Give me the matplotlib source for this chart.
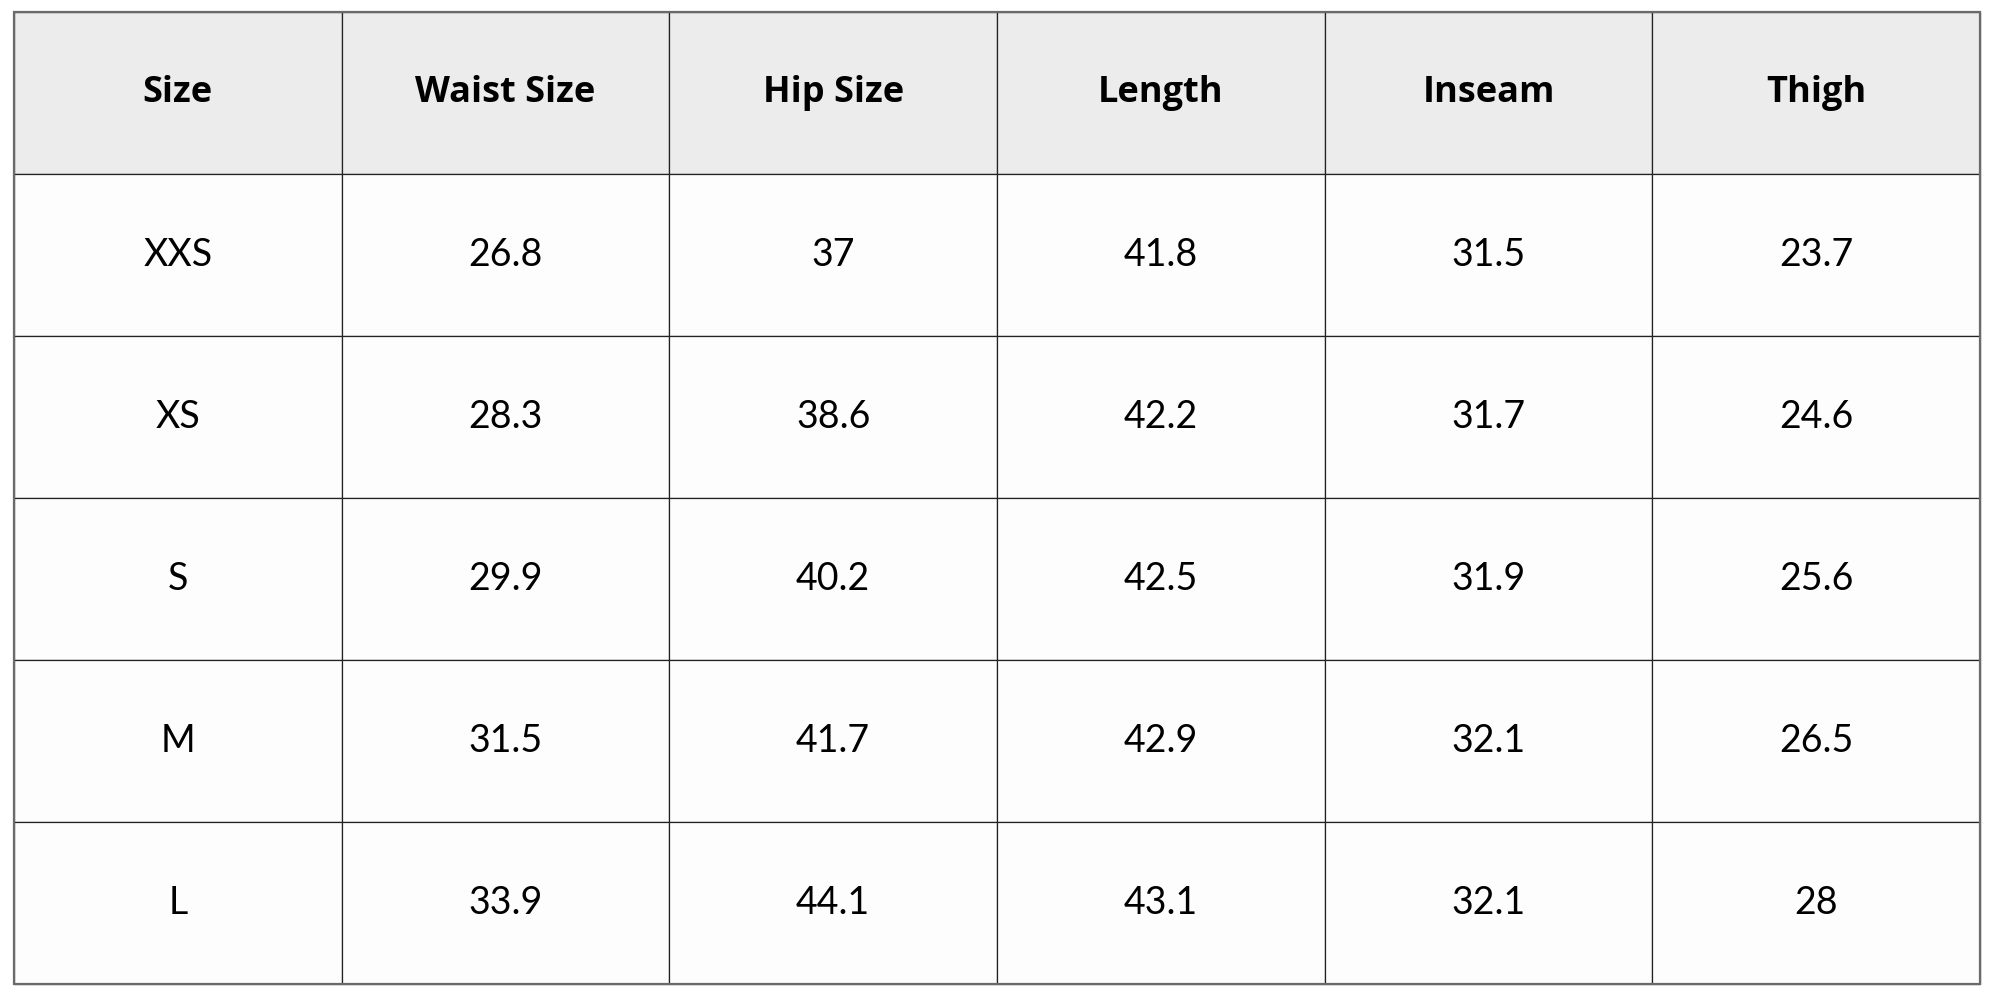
import matplotlib
matplotlib.use('Agg')
import matplotlib.pyplot as plt

# size chart values
columns = ['Size', 'Waist Size', 'Hip Size', 'Length', 'Inseam', 'Thigh']
sizes = ['XXS', 'XS', 'S', 'M', 'L']
waist = ['26.8', '28.3', '29.9', '31.5', '33.9']
hip = ['37', '38.6', '40.2', '41.7', '44.1']
length = ['41.8', '42.2', '42.5', '42.9', '43.1']
inseam = ['31.5', '31.7', '31.9', '32.1', '32.1']
thigh = ['23.7', '24.6', '25.6', '26.5', '28']

rows = [list(r) for r in zip(sizes, waist, hip, length, inseam, thigh)]

fig = plt.figure(figsize=(20, 10), dpi=100)
fig.patch.set_facecolor('white')
ax = fig.add_axes([0, 0, 1, 1])
ax.axis('off')

W, H = 2000.0, 1000.0
left, top, right, bottom = 14, 12, 1980, 984
tbl = ax.table(cellText=rows, colLabels=columns, cellLoc='center',
               bbox=[left / W, 1 - bottom / H, (right - left) / W, (bottom - top) / H])
tbl.auto_set_font_size(False)

for (r, c), cell in tbl.get_celld().items():
    cell.set_edgecolor('#222222')
    cell.set_linewidth(0.9)
    txt = cell.get_text()
    if r == 0:
        cell.set_facecolor('#ececec')
        txt.set_fontsize(26)
        txt.set_fontweight('bold')
        txt.set_fontfamily(['Open Sans', 'DejaVu Sans'])
    else:
        cell.set_facecolor('#fdfdfd')
        txt.set_fontsize(27)
        txt.set_fontfamily(['Lato', 'DejaVu Sans'])
    txt.set_color('black')

# outer frame a bit lighter, like the reference
ax.add_patch(plt.Rectangle((left / W, 1 - bottom / H), (right - left) / W, (bottom - top) / H,
                           transform=ax.transAxes, fill=False, edgecolor='#6a6a6a',
                           linewidth=1.6, zorder=5))

fig.savefig('out.png', dpi=100, facecolor='white')
plt.close(fig)
